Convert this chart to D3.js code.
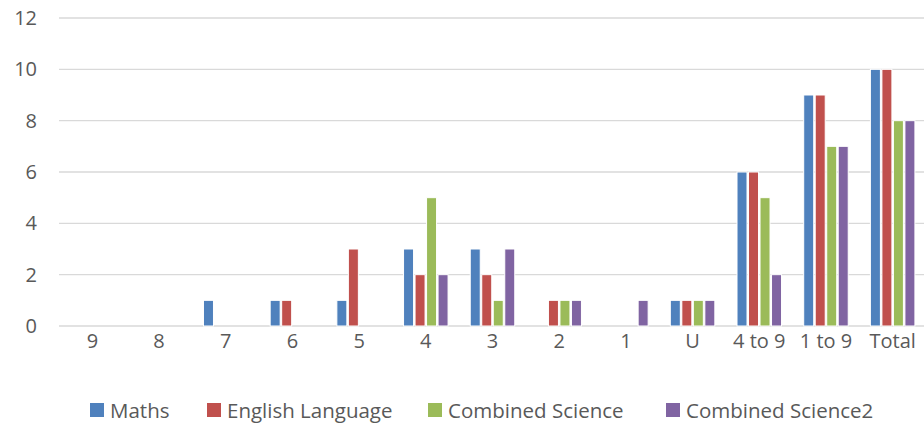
<!DOCTYPE html>
<html>
<head>
<meta charset="utf-8">
<script src="https://cdn.jsdelivr.net/npm/d3@7"></script>
<style>
  html, body { margin: 0; padding: 0; background: #fff; }
  svg { display: block; }
  text { font-family: "Open Sans", "Liberation Sans", sans-serif; fill: #595959; }
</style>
</head>
<body>
<svg id="chart" width="924" height="427"></svg>
<script>
const categories = ["9", "8", "7", "6", "5", "4", "3", "2", "1", "U", "4 to 9", "1 to 9", "Total"];
const seriesNames = ["Maths", "English Language", "Combined Science", "Combined Science2"];
const maths = [0, 0, 1, 1, 1, 3, 3, 0, 0, 1, 6, 9, 10];
const english = [0, 0, 0, 1, 3, 2, 2, 1, 0, 1, 6, 9, 10];
const combinedScience = [0, 0, 0, 0, 0, 5, 1, 1, 0, 1, 5, 7, 8];
const combinedScience2 = [0, 0, 0, 0, 0, 2, 3, 1, 1, 1, 2, 7, 8];
const yTicks = [0, 2, 4, 6, 8, 10, 12];
const colors = ["#4f81bd", "#c0504d", "#9bbb59", "#8064a2"];

const seriesValues = [maths, english, combinedScience, combinedScience2];
const data = categories.map((c, i) => ({
  cat: c,
  vals: seriesNames.map((s, j) => ({ series: s, value: seriesValues[j][i], color: colors[j] }))
}));

const svg = d3.select("#chart");
const x0 = d3.scaleBand().domain(categories).range([59, 926]).padding(0);
const bw = x0.bandwidth();
const gap = bw * 0.155;
const x1 = d3.scaleBand().domain(seriesNames).range([gap, bw - gap]).padding(0);
const y = d3.scaleLinear().domain([0, 12]).range([326, 18]);

// gridlines
svg.append("g").selectAll("line").data(yTicks).join("line")
  .attr("x1", 59).attr("x2", 924)
  .attr("y1", d => y(d)).attr("y2", d => y(d))
  .attr("stroke", "#d9d9d9").attr("stroke-width", 1.3);

// y labels
const yAxis = d3.axisLeft(y).tickValues(yTicks).tickSize(0).tickPadding(0);
const ya = svg.append("g").attr("transform", "translate(37,0)").call(yAxis);
ya.select(".domain").remove();
ya.selectAll("text").attr("font-size", 20).attr("fill", "#595959")
  .style("font-family", "'Open Sans', sans-serif");

// x labels
const xAxis = d3.axisBottom(x0).tickSize(0).tickPadding(0);
const xa = svg.append("g").attr("transform", "translate(0,334)").call(xAxis);
xa.select(".domain").remove();
xa.selectAll("text").attr("font-size", 20).attr("fill", "#595959")
  .style("font-family", "'Open Sans', sans-serif");

// bars
const groups = svg.append("g").selectAll("g").data(data).join("g")
  .attr("transform", d => `translate(${x0(d.cat)},0)`);
groups.selectAll("rect").data(d => d.vals.filter(v => v.value > 0)).join("rect")
  .attr("x", d => x1(d.series) + 0.75)
  .attr("width", x1.bandwidth() - 1.5)
  .attr("y", d => y(d.value))
  .attr("height", d => y(0) - y(d.value))
  .attr("fill", d => d.color)
  .attr("stroke", "#ffffff").attr("stroke-width", 1);

// legend
const legendX = [90, 207, 428, 666];
const lg = svg.append("g").selectAll("g").data(seriesNames).join("g")
  .attr("transform", (d, i) => `translate(${legendX[i]},403)`);
lg.append("rect").attr("width", 14).attr("height", 14).attr("fill", (d, i) => colors[i]);
lg.append("text").attr("x", 20).attr("y", 15).attr("font-size", 20.5).text(d => d);
</script>
</body>
</html>
